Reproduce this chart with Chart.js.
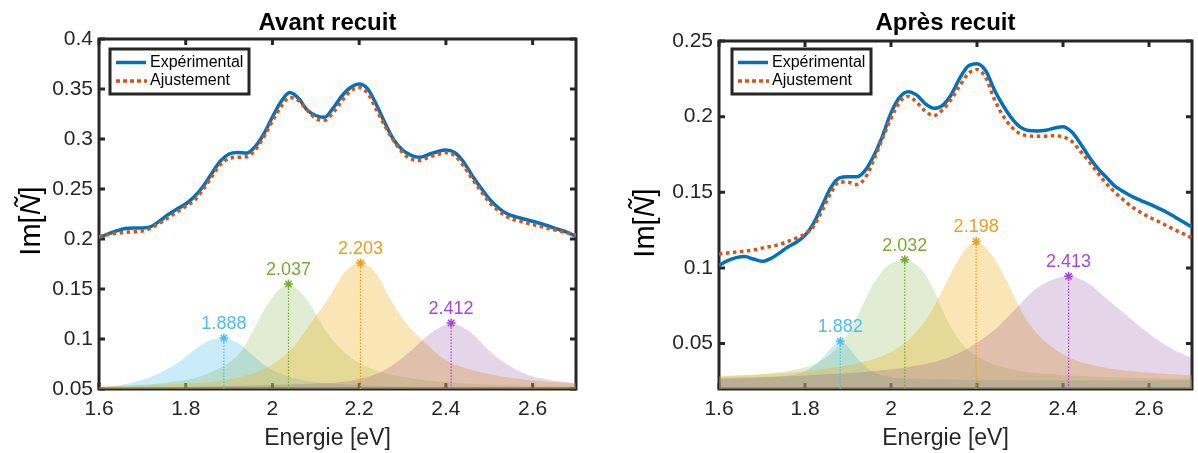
<!DOCTYPE html>
<html lang="fr">
<head>
<meta charset="utf-8">
<title>Im[Ñ] avant et après recuit</title>
<script src="https://cdn.jsdelivr.net/npm/chart.js@4.4.0/dist/chart.umd.min.js"></script>
<style>
  html, body { margin: 0; padding: 0; background: #fff; }
  #page { position: relative; width: 1198px; height: 453px; overflow: hidden; }
  #page canvas { position: absolute; top: 0; }
  #chartAvant { left: 0; }
  #chartApres { left: 600px; }
</style>
</head>
<body>
<div id="page">
  <canvas id="chartAvant" width="600" height="453"></canvas>
  <canvas id="chartApres" width="598" height="453"></canvas>
</div>
<script>
// Energies communes des courbes mesurées (eV)
const energie = [1.60,1.62,1.64,1.66,1.68,1.70,1.72,1.74,1.76,1.78,
  1.80,1.82,1.84,1.86,1.88,1.90,1.92,1.94,1.96,1.98,
  2.00,2.02,2.04,2.06,2.08,2.10,2.12,2.14,2.16,2.18,
  2.20,2.22,2.24,2.26,2.28,2.30,2.32,2.34,2.36,2.38,
  2.40,2.42,2.44,2.46,2.48,2.50,2.52,2.54,2.56,2.58,
  2.60,2.62,2.64,2.66,2.68,2.70];

// Avant recuit
const expAvant = [0.201,0.205,0.208,0.2105,0.211,0.211,0.2125,0.218,0.2245,0.230,
  0.235,0.2425,0.2525,0.2655,0.278,0.285,0.2865,0.2858,0.2923,0.305,
  0.322,0.3375,0.3465,0.3407,0.329,0.3235,0.3218,0.331,0.343,0.3515,
  0.355,0.350,0.334,0.3155,0.299,0.289,0.2837,0.2817,0.2845,0.2873,
  0.289,0.2865,0.2775,0.2638,0.2515,0.240,0.2315,0.2255,0.2223,0.2200,
  0.2177,0.2152,0.2125,0.2095,0.2067,0.2025];
const ajustAvant = [0.2025,0.2045,0.2057,0.2067,0.2071,0.208,0.211,0.216,0.2215,0.227,
  0.2328,0.2387,0.2495,0.2622,0.2745,0.2805,0.2818,0.2822,0.289,0.302,
  0.318,0.3325,0.3415,0.3385,0.329,0.3205,0.3187,0.3265,0.338,0.348,
  0.3515,0.3455,0.329,0.3125,0.298,0.2865,0.280,0.2785,0.2818,0.2845,
  0.2863,0.2835,0.2735,0.2605,0.2485,0.2368,0.2285,0.2225,0.219,0.2168,
  0.2145,0.2124,0.2102,0.2082,0.2061,0.204];

// Après recuit
const expApres = [0.1018,0.1048,0.1068,0.1075,0.1059,0.1044,0.1062,0.1098,0.1139,0.117,
  0.1215,0.1295,0.1413,0.153,0.1595,0.1602,0.1602,0.1645,0.1742,0.187,
  0.2025,0.2128,0.2165,0.2142,0.2085,0.2055,0.2075,0.2145,0.2255,0.2335,
  0.235,0.2305,0.218,0.2077,0.1992,0.1932,0.1908,0.1905,0.191,0.1925,
  0.1934,0.19,0.1825,0.1737,0.1662,0.1602,0.1542,0.1505,0.1473,0.1447,
  0.1423,0.1397,0.137,0.1337,0.1303,0.127];
const ajustApres = [0.1093,0.1099,0.1105,0.1112,0.1119,0.1131,0.1142,0.1155,0.1175,0.1197,
  0.1225,0.1275,0.138,0.1495,0.1568,0.1567,0.1551,0.1595,0.1715,0.1855,
  0.1988,0.2097,0.2134,0.2095,0.2035,0.2007,0.2045,0.2115,0.2205,0.2285,
  0.2312,0.2258,0.2117,0.2008,0.1933,0.1887,0.1874,0.187,0.1871,0.1874,
  0.1866,0.1838,0.1773,0.1705,0.1631,0.156,0.1502,0.1451,0.1405,0.1368,
  0.1337,0.131,0.1281,0.1252,0.1226,0.1198];

// Pics de l'ajustement (centre en eV, hauteur)
const picsAvantCentres = [1.888, 2.037, 2.203, 2.412];
const picsAvantHauteurs = [0.101, 0.155, 0.176, 0.116];
const picsApresCentres = [1.882, 2.032, 2.198, 2.413];
const picsApresHauteurs = [0.0515, 0.1055, 0.1175, 0.0945];

// Composantes de l'ajustement, avant recuit
const pAv1E = [1.6,1.625,1.668,1.71,1.745,1.783,1.82,1.852,1.888,1.92,1.952,1.99,2.037,2.09,2.17,2.3,2.5,2.7];
const pAv1  = [0.0518,0.0525,0.0555,0.0605,0.067,0.0765,0.089,0.098,0.101,0.0962,0.0848,0.0715,0.0625,0.0573,0.0545,0.0525,0.0512,0.0507];
const pAv2E = [1.6,1.7,1.745,1.82,1.86,1.898,1.93,1.952,1.99,2.014,2.037,2.067,2.09,2.12,2.145,2.183,2.23,2.3,2.45,2.7];
const pAv2  = [0.052,0.054,0.0557,0.0607,0.0673,0.0757,0.089,0.1057,0.1357,0.149,0.155,0.1457,0.1323,0.11,0.0957,0.0807,0.07,0.062,0.0555,0.0525];
const pAv3E = [1.6,1.7,1.8,1.9,1.975,2.015,2.05,2.09,2.13,2.165,2.203,2.24,2.27,2.305,2.345,2.4,2.475,2.59,2.7];
const pAv3  = [0.0525,0.054,0.0555,0.0595,0.069,0.079,0.093,0.117,0.141,0.166,0.176,0.165,0.141,0.1175,0.099,0.079,0.0673,0.059,0.0555];
const pAv4E = [1.6,1.8,2.0,2.1,2.167,2.244,2.283,2.321,2.36,2.39,2.412,2.435,2.46,2.498,2.537,2.59,2.64,2.7];
const pAv4  = [0.051,0.052,0.054,0.0555,0.0573,0.0657,0.0757,0.089,0.104,0.1125,0.116,0.1125,0.1057,0.089,0.0757,0.064,0.059,0.0557];

// Composantes de l'ajustement, après recuit
const pAp1E = [1.6,1.7,1.76,1.8,1.83,1.85,1.865,1.882,1.9,1.915,1.935,1.96,2.0,2.06,2.2,2.45,2.7];
const pAp1  = [0.0262,0.0275,0.029,0.0318,0.0375,0.0435,0.0485,0.0515,0.0478,0.0425,0.0365,0.031,0.0278,0.0267,0.026,0.0257,0.0256];
const pAp2E = [1.6,1.7,1.78,1.83,1.87,1.9,1.93,1.96,1.99,2.012,2.032,2.052,2.075,2.1,2.13,2.165,2.21,2.28,2.4,2.55,2.7];
const pAp2  = [0.0281,0.0297,0.033,0.0375,0.046,0.0565,0.073,0.09,0.101,0.1045,0.1055,0.1035,0.0975,0.085,0.066,0.05,0.04,0.033,0.0292,0.0275,0.0267];
const pAp3E = [1.6,1.75,1.85,1.93,2.0,2.05,2.09,2.12,2.15,2.175,2.198,2.22,2.245,2.275,2.31,2.35,2.41,2.48,2.58,2.7];
const pAp3  = [0.0285,0.0305,0.0335,0.0375,0.0445,0.055,0.0695,0.0855,0.102,0.113,0.1175,0.1135,0.104,0.088,0.068,0.0535,0.0415,0.035,0.0312,0.029];
const pAp4E = [1.6,1.8,1.95,2.05,2.12,2.17,2.21,2.25,2.29,2.33,2.37,2.413,2.455,2.5,2.54,2.58,2.62,2.66,2.7];
const pAp4  = [0.0273,0.029,0.0315,0.035,0.0395,0.0455,0.0525,0.0615,0.073,0.0845,0.0915,0.0945,0.0905,0.08,0.0705,0.061,0.0525,0.0455,0.0405];

// Graduations
const ticksEnergie = [1.6, 1.8, 2, 2.2, 2.4, 2.6];
const ticksYAvant = [0.05, 0.1, 0.15, 0.2, 0.25, 0.3, 0.35, 0.4];
const ticksYApres = [0.05, 0.1, 0.15, 0.2, 0.25];

const couleursPics = ['#4DBEEE', '#77AC30', '#EC9E1E', '#A945DF'];
const remplissages = ['rgba(77,190,238,0.30)', 'rgba(119,172,48,0.22)', 'rgba(237,177,32,0.33)', 'rgba(126,47,142,0.20)'];
const POLICE = '"Liberation Sans", Arial, Helvetica, sans-serif';
const GRIS = '#262626';

function points(xs, ys) {
  return xs.map((x, i) => ({ x: x, y: ys[i] }));
}

function titreAxeY(ctx, x, y) {
  const morceaux = [['Im[', '29px ' + POLICE], ['Ñ', 'italic 29px ' + POLICE], [']', '29px ' + POLICE]];
  ctx.save();
  ctx.translate(x, y);
  ctx.rotate(-Math.PI / 2);
  ctx.fillStyle = '#000';
  ctx.textBaseline = 'alphabetic';
  ctx.textAlign = 'left';
  let total = 0;
  morceaux.forEach(m => { ctx.font = m[1]; total += ctx.measureText(m[0]).width; });
  let cx = -total / 2;
  morceaux.forEach(m => {
    ctx.font = m[1];
    ctx.fillText(m[0], cx, 0);
    cx += ctx.measureText(m[0]).width;
  });
  ctx.restore();
}

function construireGraphique(id, o) {
  const canvas = document.getElementById(id);
  const W = canvas.width, H = canvas.height;

  // Cadre et graduations intérieures (façon MATLAB)
  const cadre = {
    id: 'cadre',
    beforeDatasetsDraw(chart) {
      const { ctx, chartArea: a, scales } = chart;
      ctx.save();
      ctx.strokeStyle = GRIS;
      ctx.lineWidth = 3;
      ctx.strokeRect(a.left, a.top, a.right - a.left, a.bottom - a.top);
      ctx.beginPath();
      scales.x.ticks.forEach(t => {
        const px = scales.x.getPixelForValue(t.value);
        ctx.moveTo(px, a.bottom); ctx.lineTo(px, a.bottom - 6);
        ctx.moveTo(px, a.top); ctx.lineTo(px, a.top + 6);
      });
      scales.y.ticks.forEach(t => {
        const py = scales.y.getPixelForValue(t.value);
        ctx.moveTo(a.left, py); ctx.lineTo(a.left + 6, py);
        ctx.moveTo(a.right, py); ctx.lineTo(a.right - 6, py);
      });
      ctx.stroke();
      ctx.restore();
    }
  };

  // Textes : titre, axes, étiquettes des pics, légende
  const textes = {
    id: 'textes',
    afterDraw(chart) {
      const { ctx, chartArea: a } = chart;
      const milieu = (a.left + a.right) / 2 - 10;
      ctx.save();
      ctx.fillStyle = '#000';
      ctx.textAlign = 'center';
      ctx.textBaseline = 'alphabetic';
      ctx.font = 'bold 24px ' + POLICE;
      ctx.fillText(o.titre, milieu, 30);
      ctx.fillStyle = GRIS;
      ctx.font = '23px ' + POLICE;
      ctx.fillText('Energie [eV]', milieu, 445);
      titreAxeY(ctx, o.titreYx, o.titreYy);

      // valeurs des pics au-dessus des étoiles
      const meta = chart.getDatasetMeta(2);
      ctx.font = '18px ' + POLICE;
      meta.data.forEach((pt, i) => {
        ctx.fillStyle = couleursPics[i];
        ctx.fillText(o.centres[i].toFixed(3), pt.x, pt.y - 9);
      });

      // légende encadrée
      const lx = o.legende.x, ly = o.legende.y, lw = 139, lh = 45;
      ctx.fillStyle = '#fff';
      ctx.fillRect(lx, ly, lw, lh);
      ctx.strokeStyle = GRIS;
      ctx.lineWidth = 3;
      ctx.strokeRect(lx, ly, lw, lh);
      ctx.lineWidth = 3.5;
      ctx.strokeStyle = '#0072BD';
      ctx.beginPath(); ctx.moveTo(lx + 6, ly + 13.5); ctx.lineTo(lx + 36, ly + 13.5); ctx.stroke();
      ctx.strokeStyle = '#D95319';
      ctx.setLineDash([4, 3]);
      ctx.beginPath(); ctx.moveTo(lx + 6, ly + 32); ctx.lineTo(lx + 37, ly + 32); ctx.stroke();
      ctx.setLineDash([]);
      ctx.fillStyle = '#000';
      ctx.textAlign = 'left';
      ctx.textBaseline = 'middle';
      ctx.font = '16px ' + POLICE;
      ctx.fillText('Expérimental', lx + 40, ly + 13.5);
      ctx.fillText('Ajustement', lx + 40, ly + 32);
      ctx.restore();
    }
  };

  const datasets = [
    { label: 'Ajustement', data: points(energie, o.ajust), borderColor: '#D95319', borderWidth: 3.5,
      borderDash: [3.5, 3.5], pointRadius: 0, fill: false, cubicInterpolationMode: 'monotone' },
    { label: 'Expérimental', data: points(energie, o.exp), borderColor: '#0072BD', borderWidth: 3.5,
      pointRadius: 0, fill: false, cubicInterpolationMode: 'monotone' },
    { label: 'Pics', data: points(o.centres, o.hauteurs), showLine: false, pointStyle: 'star',
      pointRadius: 4.5, pointBorderWidth: 1.5, pointBorderColor: couleursPics, pointBackgroundColor: couleursPics }
  ];
  o.centres.forEach((c, i) => {
    datasets.push({ label: 'repère ' + c, data: [{ x: c, y: o.yMin }, { x: c, y: o.hauteurs[i] }],
      borderColor: couleursPics[i], borderWidth: 1.2, borderDash: [1.5, 1.5], pointRadius: 0, fill: false });
  });
  // Aires des composantes : la violette au-dessus, puis orange, verte, bleue
  [3, 2, 1, 0].forEach(i => {
    datasets.push({ label: 'pic ' + o.centres[i], data: points(o.pics[i][0], o.pics[i][1]),
      borderWidth: 0, borderColor: 'rgba(0,0,0,0)', backgroundColor: remplissages[i], pointRadius: 0,
      fill: 'start', cubicInterpolationMode: 'monotone' });
  });

  return new Chart(canvas, {
    type: 'line',
    data: { datasets: datasets },
    options: {
      responsive: false,
      animation: false,
      devicePixelRatio: 1,
      events: [],
      layout: { padding: { left: 0, right: W - o.zone.right, top: o.zone.top, bottom: 0 } },
      plugins: { legend: { display: false }, title: { display: false }, tooltip: { enabled: false } },
      scales: {
        x: {
          type: 'linear', min: 1.6, max: 2.7,
          afterBuildTicks: s => { s.ticks = ticksEnergie.map(v => ({ value: v })); },
          afterFit: s => { s.height = H - o.zone.bottom; },
          grid: { display: false, drawTicks: false },
          border: { display: false },
          ticks: { padding: 8, color: GRIS, font: { family: POLICE, size: 21 },
            autoSkip: false, maxRotation: 0, callback: v => String(v) }
        },
        y: {
          type: 'linear', min: o.yMin, max: o.yMax,
          afterBuildTicks: s => { s.ticks = o.yTicks.map(v => ({ value: v })); },
          afterFit: s => { s.width = o.zone.left; },
          grid: { display: false, drawTicks: false },
          border: { display: false },
          ticks: { padding: 6, color: GRIS, font: { family: POLICE, size: 21 },
            autoSkip: false, callback: v => String(v) }
        }
      }
    },
    plugins: [cadre, textes]
  });
}

construireGraphique('chartAvant', {
  titre: 'Avant recuit',
  exp: expAvant, ajust: ajustAvant,
  centres: picsAvantCentres, hauteurs: picsAvantHauteurs,
  pics: [[pAv1E, pAv1], [pAv2E, pAv2], [pAv3E, pAv3], [pAv4E, pAv4]],
  yMin: 0.05, yMax: 0.4, yTicks: ticksYAvant,
  zone: { left: 99, right: 576, top: 39, bottom: 389 },
  titreYx: 40, titreYy: 221,
  legende: { x: 110, y: 49 }
});

construireGraphique('chartApres', {
  titre: 'Après recuit',
  exp: expApres, ajust: ajustApres,
  centres: picsApresCentres, hauteurs: picsApresHauteurs,
  pics: [[pAp1E, pAp1], [pAp2E, pAp2], [pAp3E, pAp3], [pAp4E, pAp4]],
  yMin: 0.02, yMax: 0.25, yTicks: ticksYApres,
  zone: { left: 119, right: 596, top: 41, bottom: 389 },
  titreYx: 53.5, titreYy: 223,
  legende: { x: 132, y: 49 }
});
</script>
</body>
</html>
